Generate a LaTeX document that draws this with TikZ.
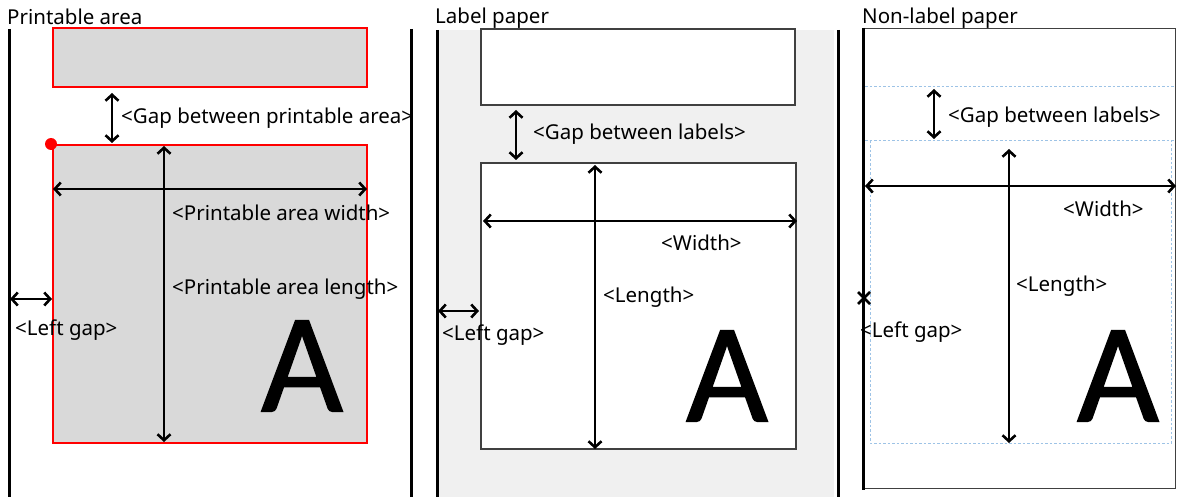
\documentclass[tikz,border=0pt]{standalone}
\usepackage{fontspec}
\setmainfont{Noto Sans}
\newfontfamily\bigfont{Carlito}[FakeBold=1.2]
\usetikzlibrary{arrows.meta}
\definecolor{areagray}{HTML}{D9D9D9}
\definecolor{papergray}{HTML}{F0F0F0}
\definecolor{dashblue}{HTML}{9DC3E6}
\definecolor{boxgray}{HTML}{404040}
\tikzset{
  edge/.style={line width=3pt, black},
  dim/.style={line width=2.6pt, {Straight Barb[length=6pt,width=13pt,line width=2.6pt]}-{Straight Barb[length=6pt,width=13pt,line width=2.6pt]}},
  lbl/.style={anchor=west, inner sep=0pt, font=\fontsize{20.5}{24}\selectfont},
  ttl/.style={anchor=west, inner sep=0pt, font=\fontsize{20.5}{24}\selectfont},
  bigA/.style={inner sep=0pt, font=\bigfont\fontsize{141}{150}\selectfont},
  redbox/.style={draw=red, line width=1.4pt, fill=areagray},
  labelbox/.style={draw=boxgray, line width=1.4pt, fill=white},
  bluedash/.style={draw=dashblue, line width=1pt, dash pattern=on 2.5pt off 2pt},
}
\begin{document}
\begin{tikzpicture}[x=1pt,y=-1pt]
\useasboundingbox (0,0) rectangle (1177,497);
% ---------------- Panel 1: Printable area
\node[ttl] (t1) at (7,17) {Printable area};
\draw[edge] (9.5,29) -- (9.5,497);
\draw[edge] (411.5,29) -- (411.5,497);
\draw[redbox] (53,28) rectangle (367,87);
\draw[redbox] (53,145) rectangle (367,443);
\fill[red] (51,144) circle (6);
\coordinate (g1a) at (112,93);
\coordinate (g1b) at (112,143);
\draw[dim] (g1a) -- (g1b);
\node[lbl] (l1gap) at (121,118) {<Gap between printable area>};
\coordinate (w1a) at (53,189);
\coordinate (w1b) at (367,189);
\draw[dim] (w1a) -- (w1b);
\coordinate (h1a) at (164,146);
\coordinate (h1b) at (164,442);
\draw[dim] (h1a) -- (h1b);
\node[lbl] (l1w) at (172,213) {<Printable area width>};
\node[lbl] (l1h) at (172,289) {<Printable area length>};
\coordinate (lg1a) at (10,299);
\coordinate (lg1b) at (52,299);
\draw[dim] (lg1a) -- (lg1b);
\node[lbl] (l1lg) at (15,330) {<Left gap>};
\node[bigA] (A1) at (302,366) {A};
% ---------------- Panel 2: Label paper
\fill[papergray] (437,30) rectangle (834,497);
\node[ttl] (t2) at (435,18) {Label paper};
\draw[edge] (437.5,30) -- (437.5,497);
\draw[edge] (838,30) -- (838,497);
\draw[labelbox] (481,29) rectangle (795,105);
\draw[labelbox] (481,163) rectangle (796,449);
\coordinate (g2a) at (516,110);
\coordinate (g2b) at (516,160);
\draw[dim] (g2a) -- (g2b);
\node[lbl] (l2gap) at (533,134) {<Gap between labels>};
\coordinate (w2a) at (483,221);
\coordinate (w2b) at (797,221);
\draw[dim] (w2a) -- (w2b);
\coordinate (h2a) at (595,165);
\coordinate (h2b) at (595,449);
\draw[dim] (h2a) -- (h2b);
\node[lbl] (l2w) at (661,243) {<Width>};
\node[lbl] (l2h) at (603,297) {<Length>};
\coordinate (lg2a) at (438,311);
\coordinate (lg2b) at (479,311);
\draw[dim] (lg2a) -- (lg2b);
\node[lbl] (l2lg) at (442,335) {<Left gap>};
\node[bigA] (A2) at (727,376) {A};
% ---------------- Panel 3: Non-label paper
\node[ttl] (t3) at (862,18) {Non-label paper};
\draw[boxgray, line width=1.3pt] (863,28.5) rectangle (1175.5,488.5);
\draw[edge] (863.5,28) -- (863.5,490);
\draw[bluedash] (865,87) -- (1175,87);
\draw[bluedash] (865,141) -- (1175,141);
\draw[bluedash] (870,141) -- (870,443) -- (1171,443) -- (1171,141);
\coordinate (g3a) at (934,89);
\coordinate (g3b) at (934,139);
\draw[dim] (g3a) -- (g3b);
\node[lbl] (l3gap) at (948,117) {<Gap between labels>};
\coordinate (w3a) at (865,186);
\coordinate (w3b) at (1176,186);
\draw[dim] (w3a) -- (w3b);
\coordinate (h3a) at (1009,149);
\coordinate (h3b) at (1009,443);
\draw[dim] (h3a) -- (h3b);
\node[lbl] (l3w) at (1063,209) {<Width>};
\node[lbl] (l3h) at (1016,286) {<Length>};
\coordinate (lg3) at (864,298);
\draw[line width=2.6pt] ([shift={(-6,-6)}]lg3) -- ([shift={(6,6)}]lg3);
\draw[line width=2.6pt] ([shift={(-6,6)}]lg3) -- ([shift={(6,-6)}]lg3);
\node[lbl] (l3lg) at (860,332) {<Left gap>};
\node[bigA] (A3) at (1118,376) {A};
\end{tikzpicture}
\end{document}
